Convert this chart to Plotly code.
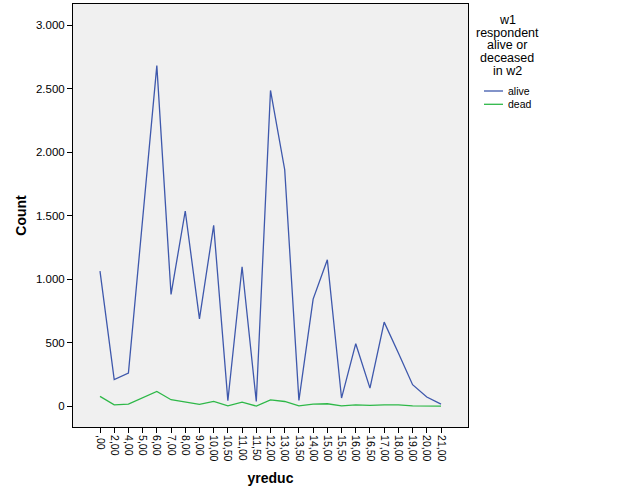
import plotly.graph_objs as go

# Categories on x axis (yreduc), comma decimals as in the original output
yreduc = [",00", "2,00", "4,00", "5,00", "6,00", "7,00", "8,00", "9,00", "10,00",
          "10,50", "11,00", "11,50", "12,00", "13,00", "13,50", "14,00", "15,00",
          "15,50", "16,00", "16,50", "17,00", "18,00", "19,00", "20,00", "21,00"]

# Counts
alive = [1066, 211, 263, 1450, 2684, 882, 1539, 689, 1426, 45, 1100, 39, 2488,
         1864, 47, 845, 1155, 66, 494, 144, 664, 420, 171, 74, 18]
dead = [79, 13, 18, 71, 118, 53, 32, 16, 39, 5, 34, 3, 52, 39, 5, 18, 21, 5,
        13, 8, 13, 13, 5, 5, 3]

y_ticks = [0, 500, 1000, 1500, 2000, 2500, 3000]
legend_title = ["w1", "respondent", "alive or", "deceased", "in w2"]

W, H = 626, 501
L, R, T, B = 73, 468, 4, 427  # plot area in pixels
FONT = 'Liberation Sans, Arial'


def px(xpx, ypx):
    # page pixels -> paper coords
    return (xpx - L) / (R - L), (B - ypx) / (B - T)


series = [('alive', alive, '#3E58AC'), ('dead', dead, '#2EB848')]

fig = go.Figure()
for name, vals, color in series:
    fig.add_trace(go.Scatter(x=yreduc, y=vals, mode='lines', name=name,
                             line=dict(color=color, width=1.3), showlegend=False))

# SPSS style legend: title lines, then short line samples with labels
for i, txt in enumerate(legend_title):
    x, y = px(507, 20 + i * 12.7)
    fig.add_annotation(text=txt, xref='paper', yref='paper', x=x, y=y,
                       xanchor='center', yanchor='middle', showarrow=False,
                       font=dict(family=FONT, size=12.5, color='#000000'))

for i, (name, vals, color) in enumerate(series):
    ypx = 91 + i * 13.3
    x0, y0 = px(484, ypx)
    x1, _ = px(503, ypx)
    fig.add_shape(type='line', xref='paper', yref='paper', x0=x0, x1=x1, y0=y0, y1=y0,
                  line=dict(color=color, width=1.3))
    xt, _ = px(506, ypx)
    fig.add_annotation(text=name, xref='paper', yref='paper', x=xt, y=y0,
                       xanchor='left', yanchor='middle', showarrow=False,
                       font=dict(family=FONT, size=10.5, color='#000000'))

fig.update_layout(
    width=W, height=H,
    margin=dict(l=L, r=W - R, t=T, b=H - B, autoexpand=False),
    paper_bgcolor='white',
    plot_bgcolor='#F0F0F0',
    separators=',.',
    font=dict(family=FONT, color='#000000'),
    xaxis=dict(
        type='category', range=[-1.9, 25.9],
        tickangle=90, ticks='outside', ticklen=5, tickcolor='#000000',
        tickfont=dict(size=10.5),
        showline=True, linecolor='#000000', linewidth=1, mirror=True,
        showgrid=False, zeroline=False,
        title=dict(text='<b>yreduc</b>', font=dict(size=14), standoff=12),
    ),
    yaxis=dict(
        range=[-162, 3169],
        tickvals=y_ticks, tickformat=',d',
        ticks='outside', ticklen=5, tickcolor='#000000',
        tickfont=dict(size=11.5),
        showline=True, linecolor='#000000', linewidth=1, mirror=True,
        showgrid=False, zeroline=False,
        title=dict(text='<b>Count</b>', font=dict(size=14), standoff=6),
    ),
)

# drop the browser's default body margin so the figure sits at the page corner
fig.write_html("out.html", config={'displayModeBar': False},
               post_script="document.body.style.margin='0';")
